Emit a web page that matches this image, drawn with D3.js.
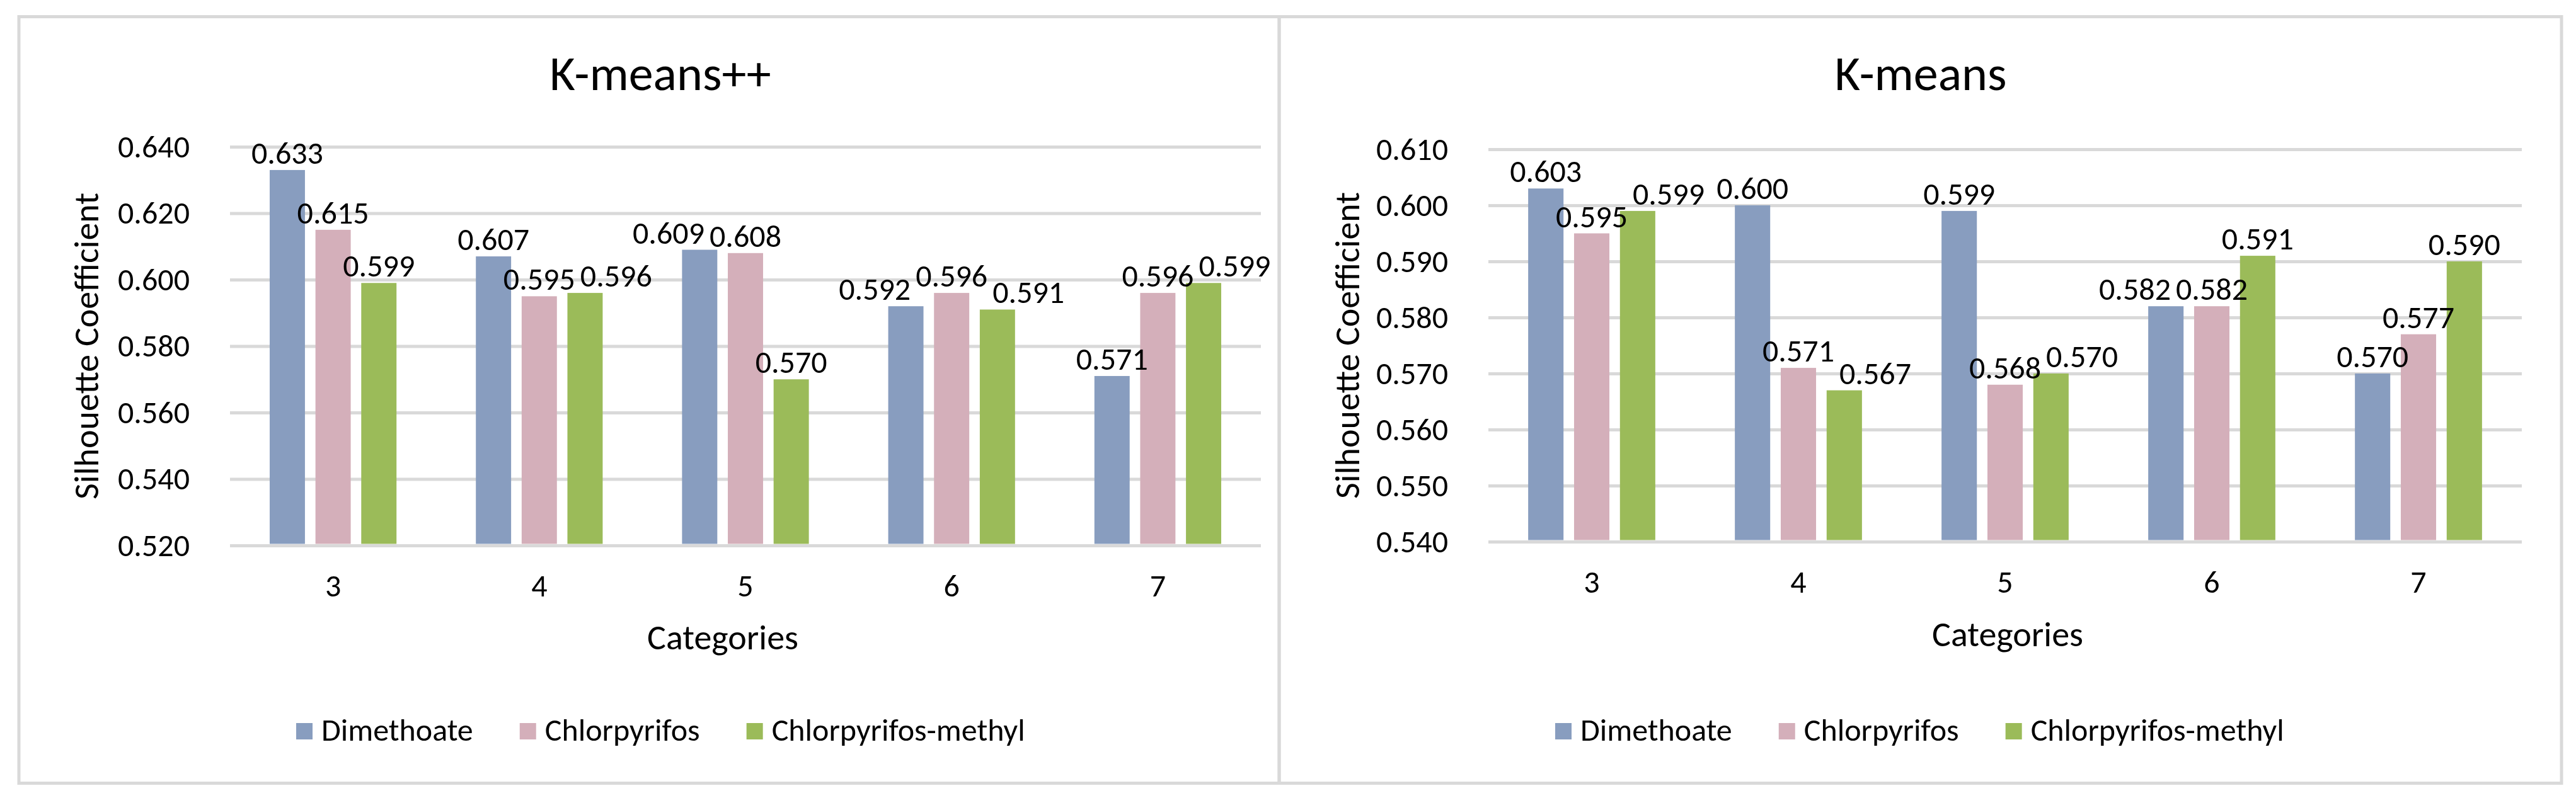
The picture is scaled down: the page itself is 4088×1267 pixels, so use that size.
<!DOCTYPE html>
<html>
<head>
<meta charset="utf-8">
<script src="https://cdn.jsdelivr.net/npm/d3@7"></script>
<style>
  body { margin: 0; background: #fff; }
  text { font-family: Carlito, Calibri, "Open Sans", sans-serif; fill: #000; }
</style>
</head>
<body>
<div id="chart"></div>
<script>
// Silhouette coefficients, K-means++ vs K-means, two bar charts side by side

const categories = ["3", "4", "5", "6", "7"];
const seriesNames = ["Dimethoate", "Chlorpyrifos", "Chlorpyrifos-methyl"];
const seriesColors = ["#889dbf", "#d4afba", "#9bbb59"];

// K-means++ panel
const kppDimethoate = [0.633, 0.607, 0.609, 0.592, 0.571];
const kppChlorpyrifos = [0.615, 0.595, 0.608, 0.596, 0.596];
const kppChlorMethyl = [0.599, 0.596, 0.570, 0.591, 0.599];
const kppTicks = [0.52, 0.54, 0.56, 0.58, 0.60, 0.62, 0.64];

// K-means panel
const kmDimethoate = [0.603, 0.600, 0.599, 0.582, 0.570];
const kmChlorpyrifos = [0.595, 0.571, 0.568, 0.582, 0.577];
const kmChlorMethyl = [0.599, 0.567, 0.570, 0.591, 0.590];
const kmTicks = [0.54, 0.55, 0.56, 0.57, 0.58, 0.59, 0.60, 0.61];

const width = 4088;
const height = 1267;

const svg = d3.select("#chart")
  .append("svg")
  .attr("width", width)
  .attr("height", height);

svg.append("rect")
  .attr("width", width)
  .attr("height", height)
  .attr("fill", "#fff");

// layout of each panel (pixels)
const panels = [
  {
    title: "K-means++", series: [kppDimethoate, kppChlorpyrifos, kppChlorMethyl], ticks: kppTicks,
    box: [30, 2030], plotX: [365, 2001], plotY: [233, 866],
    titleX: 1048, catTitleX: 1147, catTitleY: 1031, yTitleX: 156, legendX: 470
  },
  {
    title: "K-means", series: [kmDimethoate, kmChlorpyrifos, kmChlorMethyl], ticks: kmTicks,
    box: [2030, 4065], plotX: [2362, 4002], plotY: [237, 860],
    titleX: 3048, catTitleX: 3186, catTitleY: 1026, yTitleX: 2157, legendX: 2468
  }
];

const fmt = d3.format(".3f");
const labelSize = 50;

// rough text box of a value label (font ascent / descent at 50px)
function collide(a, b) {
  const gap = 6;
  const ox = a.cx - a.w / 2 < b.cx + b.w / 2 + gap && b.cx - b.w / 2 < a.cx + a.w / 2 + gap;
  const oy = a.base - 48 < b.base + 13 && b.base - 48 < a.base + 13;
  return ox && oy;
}

panels.forEach(function(p) {
  // chart border
  svg.append("rect")
    .attr("x", p.box[0])
    .attr("y", 26.5)
    .attr("width", p.box[1] - p.box[0])
    .attr("height", 1217)
    .attr("fill", "none")
    .attr("stroke", "#d9d9d9")
    .attr("stroke-width", 5);

  svg.append("text")
    .attr("x", p.titleX)
    .attr("y", 143)
    .attr("text-anchor", "middle")
    .style("font-size", "78px")
    .text(p.title);

  const x0 = d3.scaleBand()
    .domain(categories)
    .range(p.plotX);

  const bw = x0.bandwidth();
  const groupW = bw * 0.615;
  const xs = d3.scaleBand()
    .domain(d3.range(seriesNames.length))
    .range([(bw - groupW) / 2, (bw + groupW) / 2])
    .paddingInner(0.23);

  const y = d3.scaleLinear()
    .domain([p.ticks[0], p.ticks[p.ticks.length - 1]])
    .range([p.plotY[1], p.plotY[0]]);

  // y axis with gridlines
  const yAxis = svg.append("g")
    .attr("transform", `translate(${p.plotX[0]},0)`)
    .call(d3.axisLeft(y)
      .tickValues(p.ticks)
      .tickFormat(fmt)
      .tickSize(-(p.plotX[1] - p.plotX[0]))
      .tickPadding(64));
  yAxis.select(".domain").remove();
  yAxis.selectAll(".tick line")
    .attr("stroke", "#d9d9d9")
    .attr("stroke-width", 5);
  yAxis.selectAll(".tick text")
    .style("font-size", labelSize + "px")
    .attr("fill", "#000");

  // x axis labels
  const xAxis = svg.append("g")
    .attr("transform", `translate(0,${p.plotY[1]})`)
    .call(d3.axisBottom(x0).tickSize(0).tickPadding(45));
  xAxis.select(".domain").remove();
  xAxis.selectAll(".tick text")
    .style("font-size", labelSize + "px")
    .attr("fill", "#000");

  // bars
  const bars = svg.append("g");
  p.series.forEach(function(vals, si) {
    bars.selectAll(null)
      .data(vals)
      .enter().append("rect")
      .attr("x", (d, i) => x0(categories[i]) + xs(si))
      .attr("y", d => y(d))
      .attr("width", xs.bandwidth())
      .attr("height", d => y(p.ticks[0]) - y(d) - 2.5)
      .attr("fill", seriesColors[si]);
  });

  // data labels: above each bar, outer ones pushed sideways when they touch the middle one
  const labels = svg.append("g");
  const all = [];
  categories.forEach(function(c, ci) {
    const grp = p.series.map(function(vals, si) {
      const v = vals[ci];
      const t = labels.append("text")
        .attr("text-anchor", "middle")
        .style("font-size", labelSize + "px")
        .text(fmt(v));
      return {
        node: t,
        cx: x0(c) + xs(si) + xs.bandwidth() / 2,
        base: y(v) - 10,
        w: t.node().getComputedTextLength()
      };
    });
    const mid = grp[1];
    if (collide(grp[0], mid)) grp[0].cx = mid.cx - (grp[0].w + mid.w) / 2 - 8;
    if (collide(grp[2], mid)) grp[2].cx = mid.cx + (grp[2].w + mid.w) / 2 + 8;
    grp.forEach(l => all.push(l));
  });
  // anything still touching gets lifted
  all.forEach(function(l, i) {
    let moved = true;
    while (moved) {
      moved = false;
      for (let j = 0; j < i; j++) {
        if (collide(l, all[j])) {
          l.base = all[j].base - 64;
          moved = true;
        }
      }
    }
    l.node.attr("x", l.cx).attr("y", l.base);
  });

  // axis titles
  svg.append("text")
    .attr("x", p.catTitleX)
    .attr("y", p.catTitleY)
    .attr("text-anchor", "middle")
    .style("font-size", "56px")
    .text("Categories");

  svg.append("text")
    .attr("transform", `translate(${p.yTitleX},${(p.plotY[0] + p.plotY[1]) / 2}) rotate(-90)`)
    .attr("text-anchor", "middle")
    .style("font-size", "56px")
    .text("Silhouette Coefficient");

  // legend
  const legend = svg.append("g");
  let lx = p.legendX;
  seriesNames.forEach(function(name, si) {
    legend.append("rect")
      .attr("x", lx)
      .attr("y", 1148)
      .attr("width", 26)
      .attr("height", 26)
      .attr("fill", seriesColors[si]);
    const t = legend.append("text")
      .attr("x", lx + 40)
      .attr("y", 1176)
      .style("font-size", labelSize + "px")
      .text(name);
    lx += 40 + t.node().getComputedTextLength() + 74;
  });
});
</script>
</body>
</html>
